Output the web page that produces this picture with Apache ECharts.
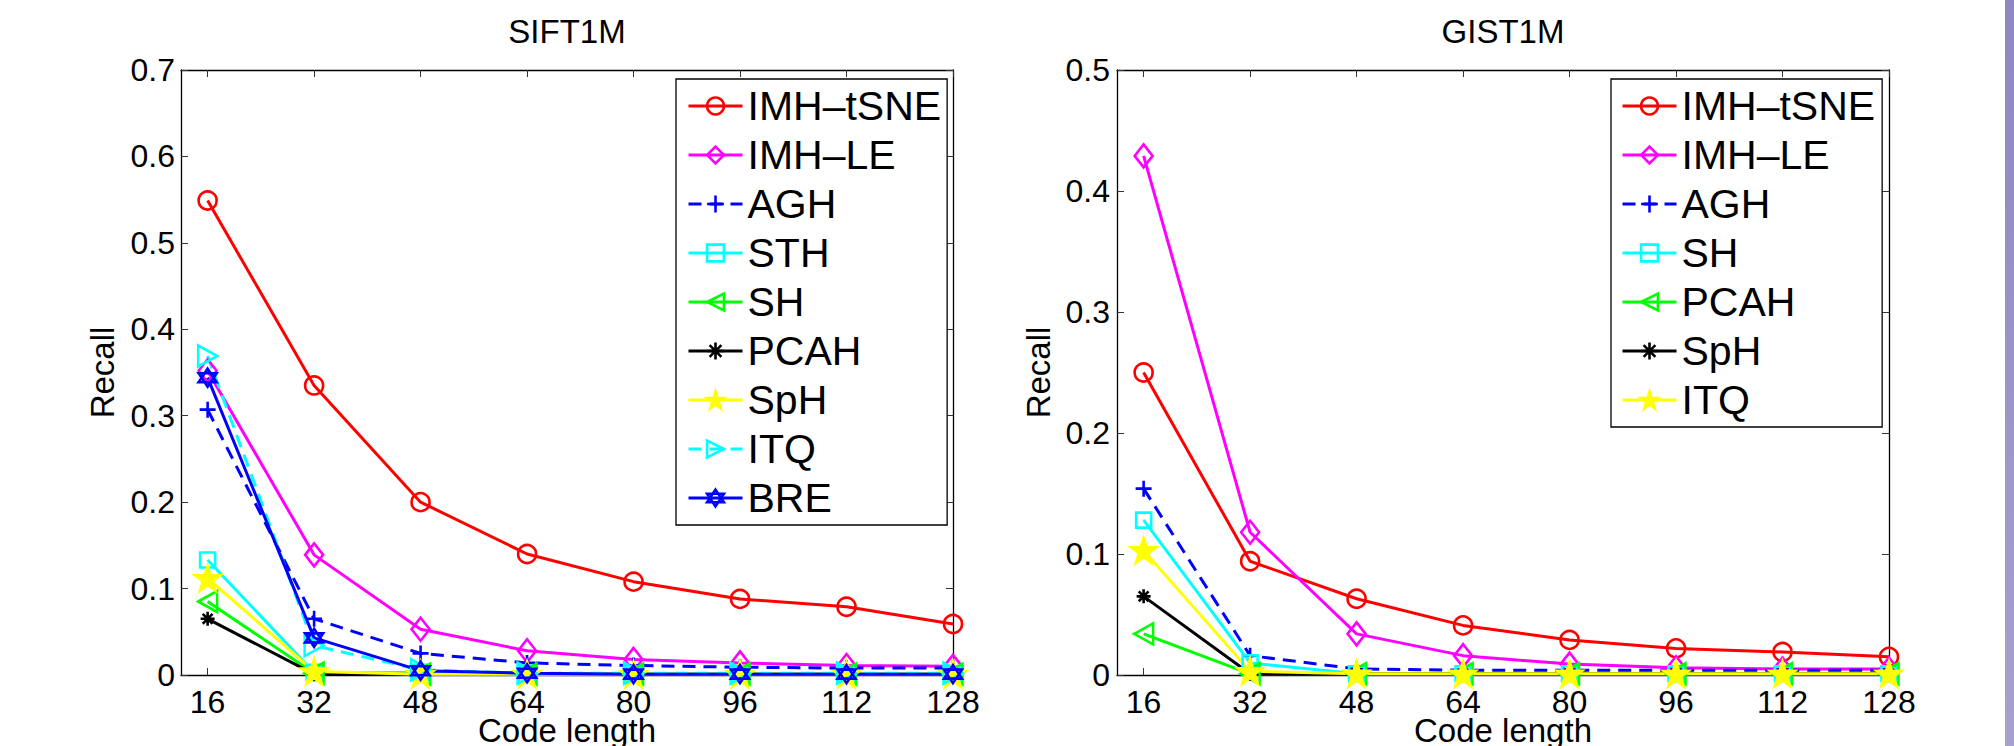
<!DOCTYPE html>
<html><head><meta charset="utf-8">
<script src="https://cdn.jsdelivr.net/npm/echarts@6/dist/echarts.min.js"></script>
<style>html,body{margin:0;padding:0;background:#fff}#c{width:2014px;height:746px}</style>
</head><body><div id="c"></div>
<script>
// ---------- data ----------
const codeLengths = [16, 32, 48, 64, 80, 96, 112, 128];
const yTicksSift = [0, 0.1, 0.2, 0.3, 0.4, 0.5, 0.6, 0.7];
const yTicksGist = [0, 0.1, 0.2, 0.3, 0.4, 0.5];
const siftTitle = 'SIFT1M';
const gistTitle = 'GIST1M';
const xAxisName = 'Code length';
const yAxisName = 'Recall';

// SIFT1M
const siftNames = ['IMH–tSNE', 'IMH–LE', 'AGH', 'STH', 'SH', 'PCAH', 'SpH', 'ITQ', 'BRE'];
const sift_IMH_tSNE = [0.549, 0.335, 0.200, 0.140, 0.108, 0.088, 0.079, 0.059];
const sift_IMH_LE   = [0.352, 0.139, 0.053, 0.028, 0.018, 0.014, 0.011, 0.010];
const sift_AGH      = [0.307, 0.065, 0.025, 0.014, 0.011, 0.009, 0.008, 0.008];
const sift_STH      = [0.133, 0.003, 0.003, 0.002, 0.001, 0.001, 0.001, 0.001];
const sift_SH       = [0.085, 0.002, 0.001, 0.001, 0.001, 0.001, 0.001, 0.001];
const sift_PCAH     = [0.065, 0.001, 0.001, 0.001, 0.001, 0.001, 0.001, 0.001];
const sift_SpH      = [0.112, 0.004, 0.001, 0.001, 0.001, 0.001, 0.001, 0.001];
const sift_ITQ      = [0.369, 0.034, 0.006, 0.002, 0.002, 0.002, 0.002, 0.002];
const sift_BRE      = [0.344, 0.043, 0.005, 0.002, 0.001, 0.001, 0.001, 0.001];

// GIST1M
const gistNames = ['IMH–tSNE', 'IMH–LE', 'AGH', 'SH', 'PCAH', 'SpH', 'ITQ'];
const gist_IMH_tSNE = [0.250, 0.094, 0.063, 0.041, 0.029, 0.022, 0.019, 0.015];
const gist_IMH_LE   = [0.429, 0.118, 0.034, 0.016, 0.009, 0.006, 0.005, 0.005];
const gist_AGH      = [0.154, 0.016, 0.005, 0.004, 0.004, 0.004, 0.004, 0.004];
const gist_SH       = [0.128, 0.010, 0.001, 0.001, 0.001, 0.001, 0.001, 0.001];
const gist_PCAH     = [0.034, 0.001, 0.001, 0.001, 0.001, 0.001, 0.001, 0.001];
const gist_SpH      = [0.065, 0.001, 0.001, 0.001, 0.001, 0.001, 0.001, 0.001];
const gist_ITQ      = [0.103, 0.003, 0.001, 0.001, 0.001, 0.001, 0.001, 0.001];

// ---------- styles ----------
const FONT = "'Liberation Sans', Arial, Helvetica, sans-serif";
const SYM = {
  circle: 'circle',
  diamond: 'diamond',
  square: 'rect',
  plus: 'path://M50,0L50,100M0,50L100,50',
  asterisk: 'path://M50,0L50,100M0,50L100,50M15,15L85,85M85,15L15,85',
  triLeft: 'path://M0,50L100,0L100,100Z',
  triRight: 'path://M100,50L0,0L0,100Z',
  pentagram: 'path://M50,0L61.23,34.55L97.55,34.55L68.17,55.9L79.39,90.45L50,69.1L20.61,90.45L31.83,55.9L2.45,34.55L38.77,34.55Z',
  hexagram: 'path://M50,0L93.3,75L6.7,75ZM50,100L93.3,25L6.7,25Z'
};
const DASH = [13, 8];
const siftStyles = [
  {c:'#ff0000', s:SYM.circle, z:18},
  {c:'#ff00ff', s:SYM.diamond, z:[18,23]},
  {c:'#0000ff', s:SYM.plus, z:16, dash:true},
  {c:'#00ffff', s:SYM.square, z:15},
  {c:'#00ff00', s:SYM.triLeft, z:[19,21]},
  {c:'#000000', s:SYM.asterisk, z:14},
  {c:'#ffff00', s:SYM.pentagram, z:25, fill:true},
  {c:'#00ffff', s:SYM.triRight, z:[19,21], dash:true},
  {c:'#0000ff', s:SYM.hexagram, z:18}
];
const gistStyles = [
  {c:'#ff0000', s:SYM.circle, z:18},
  {c:'#ff00ff', s:SYM.diamond, z:[18,23]},
  {c:'#0000ff', s:SYM.plus, z:16, dash:true},
  {c:'#00ffff', s:SYM.square, z:15},
  {c:'#00ff00', s:SYM.triLeft, z:[19,21]},
  {c:'#000000', s:SYM.asterisk, z:14},
  {c:'#ffff00', s:SYM.pentagram, z:25, fill:true}
];
const siftValues = [sift_IMH_tSNE, sift_IMH_LE, sift_AGH, sift_STH, sift_SH, sift_PCAH, sift_SpH, sift_ITQ, sift_BRE];
const gistValues = [gist_IMH_tSNE, gist_IMH_LE, gist_AGH, gist_SH, gist_PCAH, gist_SpH, gist_ITQ];

const LW = 3;
const BW = 2.6;
function makeSeries(prefix, names, values, styles, axisIdx) {
  return names.map((n, i) => {
    const st = styles[i];
    return {
      type: 'line', name: prefix + '|' + n,
      xAxisIndex: axisIdx, yAxisIndex: axisIdx,
      data: codeLengths.map((x, k) => [x, values[i][k]]),
      symbol: st.s, symbolSize: st.z, showSymbol: true, clip: false,
      lineStyle: {color: st.c, width: LW, type: st.dash ? DASH : 'solid'},
      itemStyle: {color: st.fill ? st.c : 'transparent', borderColor: st.c, borderWidth: BW},
      emphasis: {disabled: true}, animation: false
    };
  });
}
function legendData(prefix, names, styles) {
  return names.map((n, i) => {
    const st = styles[i];
    return {
      name: prefix + '|' + n,
      itemStyle: {color: st.fill ? st.c : 'transparent', borderColor: st.c, borderWidth: BW},
      lineStyle: {color: st.c, width: LW, type: st.dash ? DASH : 'solid'}
    };
  });
}

const axisLine = {show: true, onZero: false, lineStyle: {color: '#000', width: 1.3}};
const tick = {show: true, inside: true, length: 7, lineStyle: {color: '#333', width: 1}};
function xAxes(gridIndex) {
  const base = {type: 'value', gridIndex, min: 12, max: 128, splitLine: {show: false}, axisLine};
  return [
    Object.assign({}, base, {
      position: 'bottom',
      name: xAxisName, nameLocation: 'middle', nameGap: 42, nameMoveOverlap: false,
      nameTextStyle: {fontSize: 33, lineHeight: 26, color: '#000', fontFamily: FONT},
      axisTick: Object.assign({customValues: codeLengths}, tick),
      axisLabel: {customValues: codeLengths, fontSize: 32, lineHeight: 26, color: '#000', fontFamily: FONT, margin: 14}
    }),
    Object.assign({}, base, {
      position: 'top',
      axisTick: Object.assign({customValues: codeLengths}, tick),
      axisLabel: {show: false}
    })
  ];
}
function yAxes(gridIndex, ticks, labelMargin) {
  const base = {type: 'value', gridIndex, min: ticks[0], max: ticks[ticks.length - 1], interval: 0.1,
    splitLine: {show: false}, axisLine};
  return [
    Object.assign({}, base, {
      position: 'left',
      name: yAxisName, nameLocation: 'middle', nameGap: 62, nameRotate: 90, nameMoveOverlap: false,
      nameTextStyle: {fontSize: 33, color: '#000', fontFamily: FONT},
      axisTick: tick,
      axisLabel: {fontSize: 32, color: '#000', fontFamily: FONT, margin: labelMargin,
        formatter: v => (Math.abs(v) < 1e-9 ? '0' : v.toFixed(1))}
    }),
    Object.assign({}, base, {position: 'right', axisTick: tick, axisLabel: {show: false}})
  ];
}

const legendCommon = {
  orient: 'vertical', itemWidth: 54, itemHeight: 21, itemGap: 7,
  borderColor: '#000', borderWidth: 1.3, backgroundColor: '#fff', borderRadius: 0,
  textStyle: {fontSize: 41, lineHeight: 42, color: '#000', fontFamily: FONT},
  formatter: n => n.split('|')[1], selectedMode: false
};

const chart = echarts.init(document.getElementById('c'), null, {renderer: 'svg'});
chart.setOption({
  backgroundColor: '#fff',
  animation: false,
  grid: [
    {left: 181, top: 70, width: 772, height: 605, containLabel: false, outerBoundsMode: 'none'},
    {left: 1117, top: 70, width: 772, height: 605, containLabel: false, outerBoundsMode: 'none'}
  ],
  xAxis: xAxes(0).concat(xAxes(1)),
  yAxis: yAxes(0, yTicksSift, 6).concat(yAxes(1, yTicksGist, 7)),
  legend: [
    Object.assign({}, legendCommon, {left: 676, top: 79, padding: [6, 6, 6, 11],
      data: legendData('S', siftNames, siftStyles)}),
    Object.assign({}, legendCommon, {left: 1611, top: 79, padding: [6, 7, 6, 10],
      data: legendData('G', gistNames, gistStyles)})
  ],
  graphic: [
    {type: 'text', x: 567, y: 31, style: {text: siftTitle, fontSize: 33, fontFamily: FONT, fill: '#000',
      textAlign: 'center', textVerticalAlign: 'middle'}},
    {type: 'text', x: 1503, y: 31, style: {text: gistTitle, fontSize: 33, fontFamily: FONT, fill: '#000',
      textAlign: 'center', textVerticalAlign: 'middle'}},
    {type: 'rect', shape: {x: 2005, y: 0, width: 9, height: 746},
      style: {fill: new echarts.graphic.LinearGradient(0, 0, 0, 1, [
        {offset: 0, color: '#8e87c2'}, {offset: 1, color: '#a7a1cf'}])}}
  ],
  series: makeSeries('S', siftNames, siftValues, siftStyles, 0)
    .concat(makeSeries('G', gistNames, gistValues, gistStyles, 2))
});
</script></body></html>
